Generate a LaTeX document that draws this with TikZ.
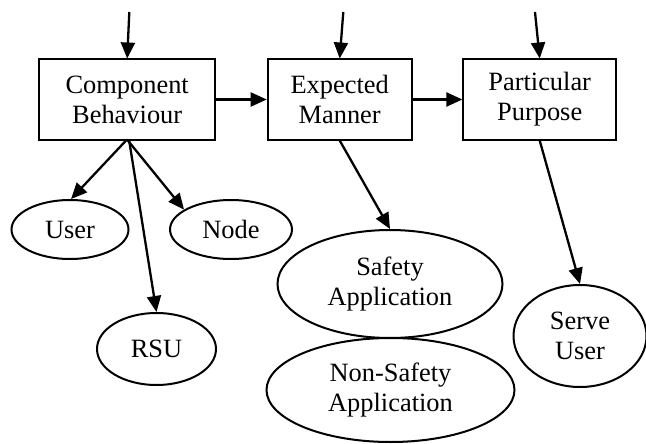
\documentclass[tikz,border=0pt]{standalone}
\usepackage{fontspec}
\setmainfont{Liberation Serif}
\usetikzlibrary{arrows.meta,shapes.geometric}
\begin{document}
\begin{tikzpicture}[x=1pt,y=-1pt,
  every node/.style={font=\fontsize{26.4}{30}\selectfont, align=center, inner sep=0pt},
  stagebox/.style={draw, line width=2pt, rectangle, minimum height=80pt},
  topic/.style={draw, line width=2pt, ellipse},
  link/.style={line width=2.3pt, -{Triangle[length=16pt,width=14pt]}}]
\useasboundingbox (0,0) rectangle (646,444);

% main stages
\node[stagebox, minimum width=176pt]   (cb) at (127.2,99.5) {Component\\Behaviour};
\node[stagebox, minimum width=144pt]   (em) at (339.7,99.5) {Expected\\Manner};
\node[stagebox, minimum width=152.7pt] (pp) at (539.7,99.5) {Particular\\Purpose};

% incoming arrows from above
\coordinate (t1) at (129.3,12);
\coordinate (t2) at (343.3,12);
\coordinate (t3) at (535,12);

% outcomes
\node[topic, minimum width=117pt, minimum height=59pt]  (user)   at (70,229.5)  {User};
\node[topic, minimum width=122pt, minimum height=59pt]  (node)   at (231,229.5) {Node};
\node[topic, minimum width=119pt, minimum height=72pt]  (rsu)    at (156.5,349) {RSU};
\node[topic, minimum width=225pt, minimum height=108pt] (safe)   at (390,284)   {Safety\\Application};
\node[topic, minimum width=248pt, minimum height=104pt] (nsafe)  at (390.5,390) {Non-Safety\\Application};
\node[topic, minimum width=133pt, minimum height=102pt] (serve)  at (580,336)   {Serve\\User};

% connectors
\draw[link] (t1) -- (cb.north);
\draw[link] (t2) -- (em.north);
\draw[link] (t3) -- (pp.north);
\draw[link] (cb.east) -- (em.west);
\draw[link] (em.east) -- (pp.west);

\coordinate (cbo) at (127,139.5);
\draw[link] (cbo) -- (user.88);
\draw[link] (cbo) -- (node.157);
\draw[link] ([xshift=2pt]cbo) -- (rsu.north);
\draw[link] (em.south) -- (safe.north);
\draw[link] (pp.south) -- (serve.north);
\end{tikzpicture}
\end{document}
